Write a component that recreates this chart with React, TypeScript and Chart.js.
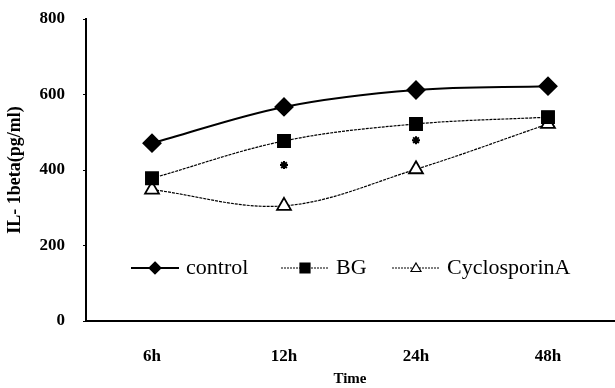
import React, { useEffect, useRef } from "react";
import { Chart, registerables } from "chart.js";

Chart.register(...registerables);

const categories = ["6h", "12h", "24h", "48h"];
const controlValues = [471, 567, 612, 622];
const bgValues = [378, 477, 522, 540];
const cyclosporinValues = [348, 305, 402, 522];
const asteriskValues = [null, 413, 479, null];
const yTicks = [0, 200, 400, 600, 800];

const FONT = "'Liberation Serif', 'DejaVu Serif', serif";

const legendPlugin = {
  id: "inlineLegend",
  afterDraw(chart: any) {
    const ctx = chart.ctx;
    const area = chart.chartArea;
    const y = area.top + 249;
    const items = [
      { x0: area.left + 45, label: "control", ds: 0 },
      { x0: area.left + 195, label: "BG", ds: 1 },
      { x0: area.left + 306, label: "CyclosporinA", ds: 2 },
    ];
    ctx.save();
    items.forEach((it) => {
      const ds = chart.data.datasets[it.ds];
      ctx.strokeStyle = "#000";
      ctx.lineWidth = it.ds === 0 ? 2 : 1.2;
      ctx.setLineDash(it.ds === 0 ? [] : [2, 1]);
      ctx.beginPath();
      ctx.moveTo(it.x0, y);
      ctx.lineTo(it.x0 + 48, y);
      ctx.stroke();
      ctx.setLineDash([]);
      ctx.fillStyle = ds.pointBackgroundColor;
      ctx.strokeStyle = "#000";
      ctx.lineWidth = 1.2;
      const cx = it.x0 + 24;
      const r = it.ds === 0 ? 6 : 5;
      ctx.beginPath();
      if (it.ds === 0) {
        ctx.moveTo(cx, y - r); ctx.lineTo(cx + r, y); ctx.lineTo(cx, y + r); ctx.lineTo(cx - r, y); ctx.closePath();
      } else if (it.ds === 1) {
        ctx.rect(cx - r, y - r, 2 * r, 2 * r);
      } else {
        ctx.moveTo(cx, y - r); ctx.lineTo(cx + r, y + r * 0.7); ctx.lineTo(cx - r, y + r * 0.7); ctx.closePath();
      }
      ctx.fill();
      ctx.stroke();
      ctx.fillStyle = "#000";
      ctx.font = `22px ${FONT}`;
      ctx.textBaseline = "middle";
      ctx.textAlign = "left";
      ctx.fillText(it.label, it.x0 + 55, y);
    });
    ctx.restore();
  },
};

export default function App() {
  const ref = useRef<HTMLCanvasElement>(null);
  useEffect(() => {
    const chart = new Chart(ref.current!, {
      type: "line",
      data: {
        labels: categories,
        datasets: [
          {
            label: "control",
            data: controlValues,
            borderColor: "#000",
            backgroundColor: "#000",
            borderWidth: 2,
            tension: 0.35,
            pointStyle: "rectRot",
            pointRadius: 8.5,
            pointBackgroundColor: "#000",
            pointBorderColor: "#000",
          },
          {
            label: "BG",
            data: bgValues,
            borderColor: "#000",
            backgroundColor: "#000",
            borderWidth: 1.2,
            borderDash: [3, 1],
            tension: 0.35,
            pointStyle: "rect",
            pointRadius: 9,
            pointBackgroundColor: "#000",
            pointBorderColor: "#000",
          },
          {
            label: "CyclosporinA",
            data: cyclosporinValues,
            borderColor: "#000",
            backgroundColor: "#fff",
            borderWidth: 1.2,
            borderDash: [3, 1],
            tension: 0.35,
            pointStyle: "triangle",
            pointRadius: 8,
            pointBorderWidth: 1.8,
            pointBackgroundColor: "#fff",
            pointBorderColor: "#000",
          },
          {
            label: "sig",
            data: asteriskValues as any,
            showLine: false,
            pointStyle: "star",
            pointRadius: 4,
            pointBorderWidth: 2,
            pointBorderColor: "#000",
            pointBackgroundColor: "#000",
          },
        ],
      },
      options: {
        animation: false,
        responsive: false,
        layout: { autoPadding: false, padding: { top: 19, right: 1, left: 0, bottom: 0 } },
        plugins: {
          legend: { display: false },
          tooltip: { enabled: false },
        },
        scales: {
          x: {
            offset: true,
            grid: { display: false, drawTicks: false },
            border: { color: "#000", width: 2 },
            ticks: {
              color: "#000",
              padding: 25,
              font: { family: FONT, size: 17, weight: "bold" },
            },
            title: {
              display: true,
              text: "Time",
              color: "#000",
              padding: { top: 0, bottom: 0 },
              font: { family: FONT, size: 15, weight: "bold" },
            },
            afterFit(scale: any) {
              scale.height = 67;
              scale.paddingLeft = 0;
              scale.paddingRight = 0;
            },
          },
          y: {
            min: 0,
            max: 800,
            afterBuildTicks(scale: any) {
              scale.ticks = yTicks.map((v) => ({ value: v }));
            },
            grid: { display: true, drawOnChartArea: false, tickLength: 3, color: "#000" },
            border: { color: "#000", width: 2 },
            ticks: {
              color: "#000",
              padding: 18,
              font: { family: FONT, size: 17, weight: "bold" },
            },
            title: {
              display: true,
              text: "IL- 1beta(pg/ml)",
              color: "#000",
              padding: { top: 5, bottom: 0 },
              font: { family: FONT, size: 18, weight: "bold" },
            },
            afterFit(scale: any) {
              scale.width = 86;
              scale.paddingTop = 0;
              scale.paddingBottom = 0;
            },
          },
        },
      },
      plugins: [legendPlugin],
    } as any);
    return () => chart.destroy();
  }, []);
  return (
    <div style={{ position: "fixed", left: 0, top: 0, width: 615, height: 388, background: "#fff" }}>
      <canvas ref={ref} width={615} height={388} style={{ display: "block" }} />
    </div>
  );
}
